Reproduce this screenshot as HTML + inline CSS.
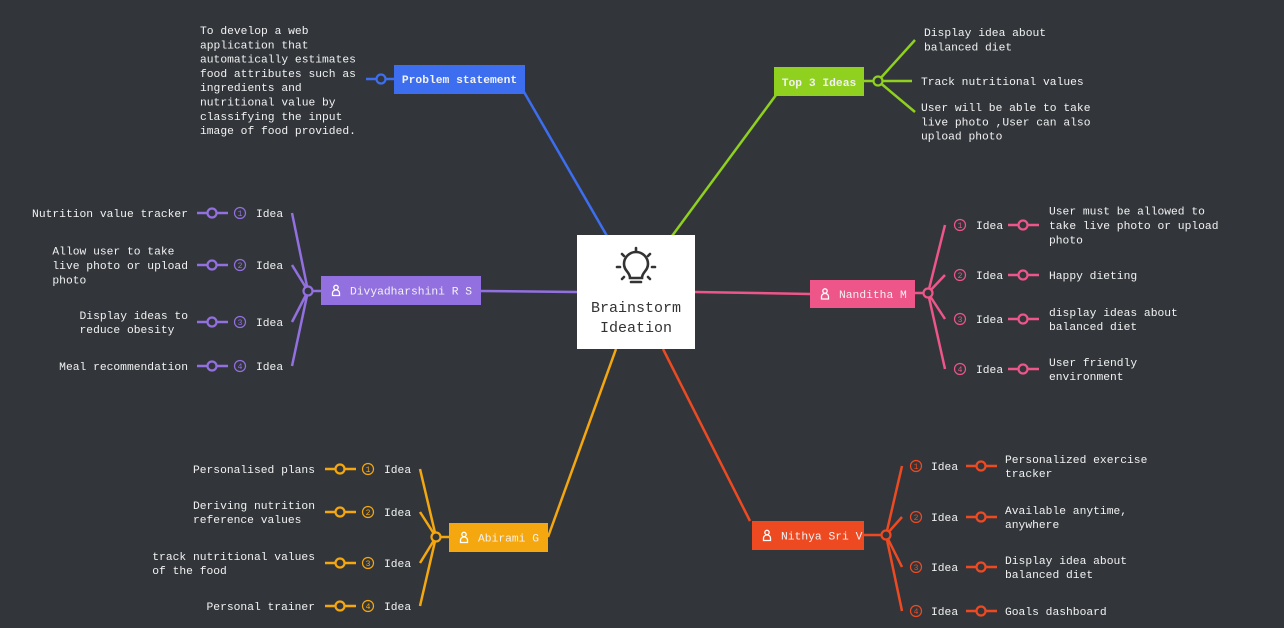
<!DOCTYPE html>
<html><head><meta charset="utf-8">
<style>
html,body{margin:0;padding:0;background:#32363b;}
svg{display:block;}
text{font-family:"Liberation Mono",monospace;font-size:11.3px;fill:#f2f2f2;}
.lbl{font-weight:bold;}
</style></head>
<body>
<svg id="map" width="1284" height="628" viewBox="0 0 1284 628">
  <rect x="0" y="0" width="1284" height="628" fill="#32363b"/>
  <g id="lines"></g>
  <g>
    <rect x="577" y="235" width="118" height="114" fill="#ffffff"/>
    <g stroke="#333" stroke-width="2.6" fill="none" stroke-linecap="round">
      <path d="M630,278 C630,272 624,271 624,264 A12,12 0 1 1 648,264 C648,271 642,272 642,278 Z"/>
      <line x1="631" y1="282" x2="641" y2="282"/>
      <line x1="636" y1="248" x2="636" y2="251"/>
      <line x1="622" y1="254" x2="624" y2="256"/>
      <line x1="650" y1="254" x2="648" y2="256"/>
      <line x1="617" y1="267" x2="620" y2="267"/>
      <line x1="652" y1="267" x2="655" y2="267"/>
      <line x1="622" y1="279" x2="624" y2="277"/>
      <line x1="650" y1="279" x2="648" y2="277"/>
    </g>
    <text x="636" y="312" text-anchor="middle" style="font-size:15px;fill:#333">Brainstorm</text>
    <text x="636" y="332" text-anchor="middle" style="font-size:15px;fill:#333">Ideation</text>
  </g>
  <g id="nodes"></g>
</svg>
<script>
const NS="http://www.w3.org/2000/svg";
const lines=document.getElementById('lines'), nodes=document.getElementById('nodes');
const CW=6.78;
function mk(parent,tag,attrs){const e=document.createElementNS(NS,tag);for(const k in attrs)e.setAttribute(k,attrs[k]);parent.appendChild(e);return e;}
function txt(parent,x,y,lines_,anchor,cls){const t=mk(parent,'text',{x:x,y:y,'text-anchor':anchor||'start'});if(cls)t.setAttribute('class',cls);
 lines_.forEach((l,i)=>{const s=mk(t,'tspan',{x:x,dy:i?14.3:0});s.textContent=l;});return t;}
function person(parent,cx,cy,col){const g=mk(parent,'g',{stroke:col,fill:'none','stroke-width':1.3});
 mk(g,'circle',{cx:cx,cy:cy-3,r:2.2});mk(g,'path',{d:`M${cx-3.5},${cy+5} v-2.5 a3.5,3 0 0 1 7,0 v2.5 Z`});}

const blue='#3d6ef0';
mk(lines,'line',{x1:524,y1:92,x2:607,y2:236,stroke:blue,'stroke-width':2.5});
mk(lines,'line',{x1:366,y1:79,x2:394,y2:79,stroke:blue,'stroke-width':2.5});
mk(lines,'circle',{cx:381,cy:79,r:4.5,fill:'#32363b',stroke:blue,'stroke-width':2.2});
let g=mk(nodes,'g',{});


mk(g,'rect',{x:394,y:65,width:131,height:29,fill:blue});
txt(g,459.5,83,['Problem statement'],'middle','lbl');
let pt=txt(nodes,200,34,['To develop a web','application that','automatically estimates','food attributes such as','ingredients and','nutritional value by','classifying the input','image of food provided.']);



const green='#8fd11e';
mk(lines,'line',{x1:672,y1:236,x2:776,y2:95,stroke:green,'stroke-width':2.5});
mk(lines,'line',{x1:864,y1:81,x2:878,y2:81,stroke:green,'stroke-width':2.5});
[[915,40],[912,81],[915,112]].forEach(p=>mk(lines,'line',{x1:878,y1:81,x2:p[0],y2:p[1],stroke:green,'stroke-width':2.5}));
mk(lines,'circle',{cx:878,cy:81,r:4.5,fill:'#32363b',stroke:green,'stroke-width':2.2});
g=mk(nodes,'g',{});


mk(g,'rect',{x:774,y:67,width:90,height:29,fill:green});
txt(g,819,86,['Top 3 Ideas'],'middle','lbl');
[[924,36,['Display idea about','balanced diet']],[921,85,['Track nutritional values']],[921,111,['User will be able to take','live photo ,User can also','upload photo']]].forEach(d=>{
 const t=txt(nodes,d[0],d[1],d[2]);
 
 
});

const people=[
 {name:'Divyadharshini R S',col:'#9370e0',box:[321,276,160,29],hub:[308,291],main:[481,291,577,292],side:'left',
  ys:[213,265,322,366],bx:292,numX:240,ideaX:256,conX:212,textX:188,
  texts:[['Nutrition value tracker'],['Allow user to take','live photo or upload','photo'],['Display ideas to','reduce obesity'],['Meal recommendation']]},
 {name:'Nanditha M',col:'#ee5588',box:[810,280,105,28],hub:[928,293],main:[695,292,810,294],side:'right',
  ys:[225,275,319,369],bx:945,numX:960,ideaX:976,conX:1023,textX:1049,
  texts:[['User must be allowed to','take live photo or upload','photo'],['Happy dieting'],['display ideas about','balanced diet'],['User friendly','environment']]},
 {name:'Abirami G',col:'#f5a70f',box:[449,523,99,29],hub:[436,537],main:[548,537,616,349],side:'left',
  ys:[469,512,563,606],bx:420,numX:368,ideaX:384,conX:340,textX:315,
  texts:[['Personalised plans'],['Deriving nutrition','reference values'],['track nutritional values','of the food'],['Personal trainer']]},
 {name:'Nithya Sri V',col:'#ee4a22',box:[752,521,112,29],hub:[886,535],main:[750,521,663,349],side:'right',
  ys:[466,517,567,611],bx:902,numX:916,ideaX:931,conX:981,textX:1005,
  texts:[['Personalized exercise','tracker'],['Available anytime,','anywhere'],['Display idea about','balanced diet'],['Goals dashboard']]}
];
const nums=['1','2','3','4'];
people.forEach(p=>{
 const c=p.col;
 mk(lines,'line',{x1:p.main[0],y1:p.main[1],x2:p.main[2],y2:p.main[3],stroke:c,'stroke-width':2.5});
 const hx=p.side==='left'?p.box[0]:p.box[0]+p.box[2];
 mk(lines,'line',{x1:hx,y1:p.hub[1],x2:p.hub[0],y2:p.hub[1],stroke:c,'stroke-width':2.5});
 p.ys.forEach((y,i)=>{
  mk(lines,'line',{x1:p.hub[0],y1:p.hub[1],x2:p.bx,y2:y,stroke:c,'stroke-width':2.5});
  const ig=mk(nodes,'g',{});
  
  
  mk(ig,'circle',{cx:p.numX,cy:y,r:5.5,fill:'none',stroke:c,'stroke-width':1.2});
  const nt=txt(ig,p.numX,y+3,[nums[i]],'middle');nt.setAttribute('style','font-size:8px;fill:'+c);
  txt(ig,p.ideaX,y+4,['Idea']);
  mk(ig,'line',{x1:p.conX-15,y1:y,x2:p.conX+16,y2:y,stroke:c,'stroke-width':2.5});
  mk(ig,'circle',{cx:p.conX,cy:y,r:4.5,fill:'#32363b',stroke:c,'stroke-width':2.2});
  const tl=p.texts[i];
  const y0=y+4-(tl.length-1)*7.15;
  let tx=p.textX;
  if(p.side==='left'){const w=Math.max(...tl.map(s=>s.length))*CW;tx=p.textX-w;}
  txt(ig,tx,y0,tl,'start');
 });
 mk(lines,'circle',{cx:p.hub[0],cy:p.hub[1],r:4.5,fill:'#32363b',stroke:c,'stroke-width':2.2});
 const bg=mk(nodes,'g',{});
 
 
 mk(bg,'rect',{x:p.box[0],y:p.box[1],width:p.box[2],height:p.box[3],fill:c});
 person(bg,p.box[0]+15,p.box[1]+p.box[3]/2,'#fff');
 txt(bg,p.box[0]+29,p.box[1]+p.box[3]/2+4,[p.name],'start');
});
</script>
</body></html>
